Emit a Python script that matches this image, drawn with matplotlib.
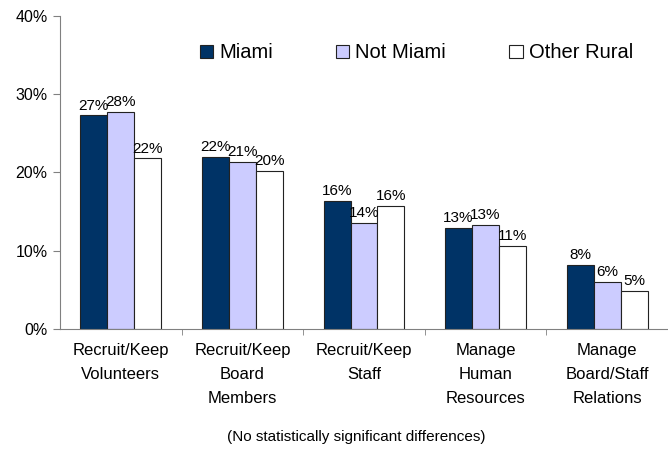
import numpy as np
import matplotlib.pyplot as plt
from matplotlib.ticker import FixedLocator

plt.rcParams['font.family'] = ['Liberation Sans', 'DejaVu Sans']

categories = ["Recruit/Keep\nVolunteers", "Recruit/Keep\nBoard\nMembers",
              "Recruit/Keep\nStaff", "Manage\nHuman\nResources",
              "Manage\nBoard/Staff\nRelations"]
miami = [27.3, 21.96, 16.4, 12.9, 8.2]
not_miami = [27.7, 21.4, 13.6, 13.3, 6.0]
other_rural = [21.8, 20.2, 15.7, 10.6, 4.9]
series_names = ["Miami", "Not Miami", "Other Rural"]
colors = ["#003366", "#CCCCFF", "#FFFFFF"]

fig = plt.figure(figsize=(6.68, 4.49), dpi=100)
ax = fig.add_axes([60 / 668, 120 / 449, 608 / 668, 313 / 449])

x = np.arange(len(categories))
w = 0.222
for k, (vals, name, c) in enumerate(zip([miami, not_miami, other_rural], series_names, colors)):
    bars = ax.bar(x + (k - 1) * w, vals, width=w, color=c, edgecolor="#222222",
                  linewidth=0.8, label=name)
    ax.bar_label(bars, labels=["%d%%" % round(v) for v in vals], padding=2, fontsize=11)

ax.set_xlim(-0.5, len(categories) - 0.5)
ax.set_ylim(0, 40)
ax.set_yticks([0, 10, 20, 30, 40])
ax.set_yticklabels(["%d%%" % t for t in [0, 10, 20, 30, 40]], fontsize=11.5)
ax.set_xticks(x)
ax.set_xticklabels(categories, fontsize=12, linespacing=1.75, va="top")
ax.tick_params(axis="x", which="major", length=0, pad=10)
ax.xaxis.set_minor_locator(FixedLocator(np.arange(0.5, len(categories) - 0.5, 1)))
ax.tick_params(axis="x", which="minor", length=4, color="#808080")
ax.tick_params(axis="y", length=5, color="#808080", pad=4)

for s in ["top", "right"]:
    ax.spines[s].set_visible(False)
for s in ["left", "bottom"]:
    ax.spines[s].set_color("#808080")

ax.legend(ncol=3, loc="center left", bbox_to_anchor=(0.23, 0.882), frameon=False,
          fontsize=14.5, handlelength=0.65, handleheight=0.65, handletextpad=0.3,
          columnspacing=3.15, borderpad=0, borderaxespad=0)

fig.text(356 / 668, 1 - 437 / 449, "(No statistically significant differences)",
         ha="center", va="center", fontsize=11)

fig.savefig("out.png", dpi=100)
